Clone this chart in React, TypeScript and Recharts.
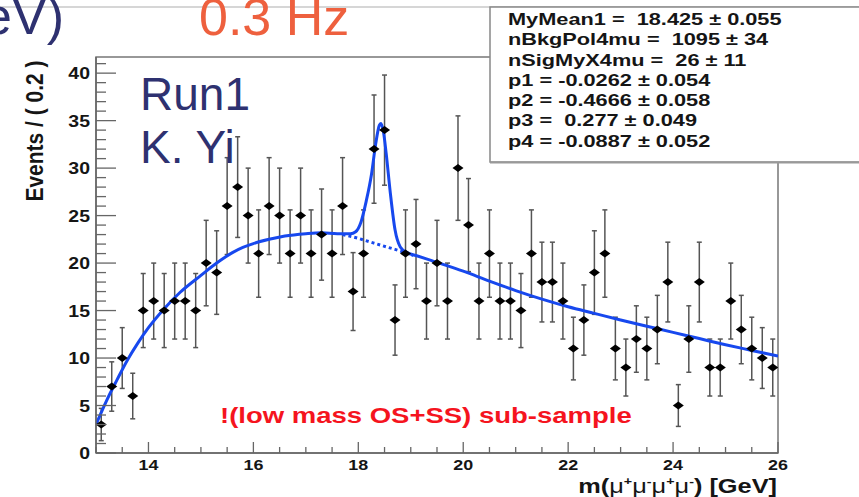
import React from "react";
import { ComposedChart, XAxis, YAxis, Scatter, Line, ErrorBar, ReferenceArea } from "recharts";

// ---- data ----
const massBins = [
  13.1, 13.3, 13.5, 13.7, 13.9, 14.1, 14.3, 14.5, 14.7, 14.9,
  15.1, 15.3, 15.5, 15.7, 15.9, 16.1, 16.3, 16.5, 16.7, 16.9,
  17.1, 17.3, 17.5, 17.7, 17.9, 18.1, 18.3, 18.5, 18.7, 18.9,
  19.1, 19.3, 19.5, 19.7, 19.9, 20.1, 20.3, 20.5, 20.7, 20.9,
  21.1, 21.3, 21.5, 21.7, 21.9, 22.1, 22.3, 22.5, 22.7, 22.9,
  23.1, 23.3, 23.5, 23.7, 23.9, 24.1, 24.3, 24.5, 24.7, 24.9,
  25.1, 25.3, 25.5, 25.7, 25.9,
];
const events = [
  3, 7, 10, 6, 15, 16, 15, 16, 16, 15,
  20, 19, 26, 28, 25, 21, 26, 25, 21, 25,
  21, 23, 21, 26, 17, 21, 32, 34, 14, 21,
  22, 16, 20, 16, 30, 24, 16, 21, 16, 16,
  15, 21, 18, 18, 16, 11, 14, 19, 21, 11,
  9, 12, 11, 13, 18, 5, 12, 18, 9, 9,
  16, 13, 11, 10, 9,
];
const eventErrors = [
  1.7, 2.6, 3.2, 2.4, 3.9, 4.0, 3.9, 4.0, 4.0, 3.9,
  4.5, 4.4, 5.1, 5.3, 5.0, 4.6, 5.1, 5.0, 4.6, 5.0,
  4.6, 4.8, 4.6, 5.1, 4.1, 4.6, 5.7, 5.8, 3.7, 4.6,
  4.7, 4.0, 4.5, 4.0, 5.5, 4.9, 4.0, 4.6, 4.0, 4.0,
  3.9, 4.6, 4.2, 4.2, 4.0, 3.3, 3.7, 4.4, 4.6, 3.3,
  3.0, 3.5, 3.3, 3.6, 4.2, 2.2, 3.5, 4.2, 3.0, 3.0,
  4.0, 3.6, 3.3, 3.2, 3.0,
];
const fitMass = [
  13.0, 13.2, 13.4, 13.6, 13.8, 14.0, 14.3, 14.6, 15.0, 15.3,
  15.6, 15.8, 16.0, 16.3, 16.6, 17.0, 17.3, 17.6, 17.85, 17.95,
  18.05, 18.15, 18.25, 18.33, 18.4, 18.43, 18.48, 18.53, 18.61, 18.7,
  18.8, 18.93, 19.1, 19.4, 20.0, 20.5, 21.0, 21.5, 22.0, 22.5,
  23.0, 23.5, 24.0, 24.5, 25.0, 25.5, 26.0,
];
const fitEvents = [
  3.0, 5.5, 7.7, 9.8, 11.6, 13.2, 15.2, 16.9, 18.7, 20.0,
  21.1, 21.65, 22.05, 22.5, 22.85, 23.1, 23.2, 23.1, 23.1, 23.3,
  24.3, 26.5, 29.3, 32.5, 34.5, 34.7, 33.8, 31.6, 27.4, 23.5,
  21.7, 21.1, 20.8, 20.25, 19.15, 18.1, 17.1, 16.2, 15.4, 14.7,
  14.0, 13.35, 12.7, 12.05, 11.4, 10.8, 10.2,
];
const bkgMass = [17.7, 18.0, 18.3, 18.6, 18.9, 19.05];
const bkgEvents = [23.0, 22.6, 22.1, 21.6, 21.1, 20.8];

const xTicks = [13, 13.5, 14, 14.5, 15, 15.5, 16, 16.5, 17, 17.5, 18, 18.5, 19, 19.5, 20, 20.5, 21, 21.5, 22, 22.5, 23, 23.5, 24, 24.5, 25, 25.5, 26];
const yTicks = [0, 1, 2, 3, 4, 5, 6, 7, 8, 9, 10, 11, 12, 13, 14, 15, 16, 17, 18, 19, 20, 21, 22, 23, 24, 25, 26, 27, 28, 29, 30, 31, 32, 33, 34, 35, 36, 37, 38, 39, 40, 41];
const statLines = [
  "MyMean1 =  18.425 ± 0.055",
  "nBkgPol4mu =  1095 ± 34",
  "nSigMyX4mu =  26 ± 11",
  "p1 = -0.0262 ± 0.054",
  "p2 = -0.4666 ± 0.058",
  "p3 =  0.277 ± 0.049",
  "p4 = -0.0887 ± 0.052",
];

const points = massBins.map((x, i) => ({ x, y: events[i], err: eventErrors[i] }));
const fitCurve = fitMass.map((x, i) => ({ x, y: fitEvents[i] }));
const bkgCurve = bkgMass.map((x, i) => ({ x, y: bkgEvents[i] }));

const FONT = "'Liberation Sans', Arial, Helvetica, sans-serif";
const BLUE = "#1748EE";
const NAVY = "#2E3170";

const YTick = (props: any) => {
  const { x, y, payload } = props;
  const v = payload.value;
  const major = v % 5 === 0;
  return (
    <g>
      <line x1={x} x2={x + (major ? 20 : 10)} y1={y} y2={y} stroke="#666" strokeWidth={1.3} />
      {major && (
        <text
          transform={`translate(${x - 6},${y + 6}) scale(1.18,1)`}
          textAnchor="end"
          fontSize={16.5}
          fontWeight="bold"
          fontFamily={FONT}
          fill="#151515"
        >
          {v}
        </text>
      )}
    </g>
  );
};

const XTick = (props: any) => {
  const { x, y, payload } = props;
  const v = payload.value;
  const major = v % 2 === 0;
  return (
    <g>
      <line x1={x} x2={x} y1={y} y2={y - (major ? 11 : 6)} stroke="#666" strokeWidth={1.3} />
      {major && (
        <text
          transform={`translate(${x},${y + 17}) scale(1.28,1)`}
          textAnchor="middle"
          fontSize={14}
          fontWeight="bold"
          fontFamily={FONT}
          fill="#151515"
        >
          {v}
        </text>
      )}
    </g>
  );
};

const Diamond = (props: any) => {
  const { cx, cy } = props;
  if (cx == null || cy == null) return null;
  return (
    <polygon
      points={`${cx - 5.5},${cy} ${cx},${cy - 4} ${cx + 5.5},${cy} ${cx},${cy + 4}`}
      fill="#000"
    />
  );
};

export default function App() {
  return (
    <div style={{ position: "fixed", left: 0, top: 0, width: 859, height: 497, background: "#fff" }}>
      <ComposedChart
        width={859}
        height={497}
        margin={{ top: 57, right: 81, bottom: 0, left: 0 }}
      >
        <XAxis
          dataKey="x"
          type="number"
          domain={[13, 26]}
          ticks={xTicks}
          interval={0}
          allowDataOverflow
          height={44}
          tickSize={0}
          tickMargin={0}
          tickLine={false}
          axisLine={{ stroke: "#666", strokeWidth: 1.5 }}
          tick={<XTick />}
        />
        <YAxis
          type="number"
          domain={[0, 41.7]}
          ticks={yTicks}
          interval={0}
          allowDataOverflow
          width={96}
          tickSize={0}
          tickMargin={0}
          tickLine={false}
          axisLine={{ stroke: "#666", strokeWidth: 1.5 }}
          tick={<YTick />}
        />
        <ReferenceArea x1={13} x2={26} y1={0} y2={41.7} fill="none" stroke="#777" strokeWidth={1.5} ifOverflow="visible" />
        <Scatter data={points} dataKey="y" shape={<Diamond />} isAnimationActive={false}>
          <ErrorBar dataKey="err" direction="y" width={2.5} stroke="#555" strokeWidth={1.5} />
        </Scatter>
        <Line
          data={bkgCurve}
          dataKey="y"
          type="monotone"
          stroke={BLUE}
          strokeWidth={3}
          strokeDasharray="3 3"
          dot={false}
          activeDot={false}
          isAnimationActive={false}
        />
        <Line
          data={fitCurve}
          dataKey="y"
          type="monotone"
          stroke={BLUE}
          strokeWidth={3}
          dot={false}
          activeDot={false}
          isAnimationActive={false}
        />
      </ComposedChart>
      <svg
        width={859}
        height={497}
        style={{ position: "absolute", left: 0, top: 0, pointerEvents: "none" }}
      >
        <line x1={0} x2={859} y1={7} y2={7} stroke="#c8c8c8" strokeWidth={1.5} />
        <text x={64} y={34} textAnchor="end" fontSize={52} fontFamily={FONT} fill={NAVY}>eV)</text>
        <text x={199} y={35} fontSize={52} fontFamily={FONT} fill="#EE603E">0.3 Hz</text>
        <text x={140} y={110} fontSize={46} fontFamily={FONT} fill={NAVY}>Run1</text>
        <text x={140} y={163} fontSize={46} fontFamily={FONT} fill={NAVY}>K. Yi</text>
        <text
          transform="translate(43,131) rotate(-90) scale(1,1.15)"
          textAnchor="middle"
          fontSize={21}
          fontWeight="bold"
          fontFamily={FONT}
          fill="#151515"
        >
          Events / ( 0.2 )
        </text>
        <text
          transform="translate(777,493) scale(1.3,1)"
          textAnchor="end"
          fontSize={19.5}
          fontWeight="bold"
          fontFamily={FONT}
          fill="#151515"
        >
          m(<tspan fontWeight="normal">μ</tspan>
          <tspan fontSize={11} dy={-8}>+</tspan>
          <tspan fontWeight="normal" dy={8}>μ</tspan>
          <tspan fontSize={11} dy={-8}>-</tspan>
          <tspan fontWeight="normal" dy={8}>μ</tspan>
          <tspan fontSize={11} dy={-8}>+</tspan>
          <tspan fontWeight="normal" dy={8}>μ</tspan>
          <tspan fontSize={11} dy={-8}>-</tspan>
          <tspan dy={8}>) [GeV]</tspan>
        </text>
        <text
          transform="translate(220,423) scale(1.25,1)"
          fontSize={22}
          fontWeight="bold"
          fontFamily={FONT}
          fill="#F5141E"
        >
          !(low mass OS+SS) sub-sample
        </text>
        <rect x={490} y={7} width={400} height={155} fill="#fff" stroke="#888" strokeWidth={1.5} />
        <line x1={490} x2={859} y1={162.5} y2={162.5} stroke="#999" strokeWidth={2} />
        {statLines.map((s, i) => (
          <text
            key={i}
            transform={`translate(508,${25 + i * 20.25}) scale(1.36,1)`}
            fontSize={16}
            fontWeight="bold"
            fontFamily={FONT}
            fill="#151515"
            style={{ whiteSpace: "pre" }}
          >
            {s}
          </text>
        ))}
      </svg>
    </div>
  );
}
